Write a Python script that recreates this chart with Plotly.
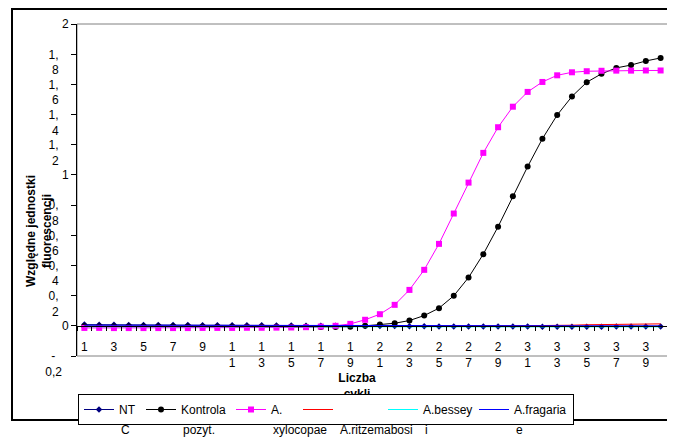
import plotly.graph_objects as go

# ---------------- data ----------------
CYCLES = list(range(1, 41))

NT = [0.008, 0.007, 0.007, 0.006, 0.006, 0.005, 0.005, 0.005, 0.004, 0.004,
      0.004, 0.003, 0.003, 0.002, 0.002, 0.001, 0.001, 0.000, 0.000, -0.001,
      -0.002, -0.002, -0.003, -0.003, -0.004, -0.004, -0.004, -0.005, -0.005, -0.005,
      -0.005, -0.006, -0.006, -0.006, -0.006, -0.006, -0.005, -0.005, -0.005, -0.004]

KONTROLA = [-0.003, -0.004, -0.004, -0.004, -0.005, -0.005, -0.005, -0.005, -0.006, -0.006,
            -0.006, -0.006, -0.006, -0.007, -0.007, -0.007, -0.008, -0.008, -0.006, 0.000,
            0.009, 0.017, 0.035, 0.068, 0.117, 0.199, 0.320, 0.475, 0.657, 0.859,
            1.055, 1.240, 1.397, 1.520, 1.614, 1.670, 1.709, 1.728, 1.755, 1.775]

XYLOCOPAE = [-0.014, -0.014, -0.015, -0.015, -0.015, -0.015, -0.015, -0.015, -0.014, -0.014,
             -0.014, -0.013, -0.013, -0.012, -0.011, -0.009, -0.005, 0.000, 0.013, 0.040,
             0.077, 0.139, 0.238, 0.371, 0.543, 0.744, 0.949, 1.146, 1.316, 1.452,
             1.550, 1.616, 1.660, 1.680, 1.687, 1.690, 1.691, 1.691, 1.692, 1.692]

RITZEMABOSI = [-0.004, -0.004, -0.004, -0.004, -0.004, -0.003, -0.003, -0.003, -0.003, -0.003,
               -0.003, -0.002, -0.002, -0.002, -0.002, -0.002, -0.001, -0.001, -0.001, -0.001,
               -0.001, 0.000, 0.000, 0.000, 0.000, 0.000, 0.001, 0.001, 0.001, 0.001,
               0.001, 0.002, 0.002, 0.004, 0.007, 0.009, 0.010, 0.011, 0.012, 0.013]

BESSEYI = [-0.006, -0.006, -0.006, -0.007, -0.007, -0.007, -0.007, -0.007, -0.008, -0.008,
           -0.008, -0.008, -0.008, -0.008, -0.008, -0.008, -0.008, -0.008, -0.008, -0.008,
           -0.008, -0.008, -0.008, -0.008, -0.008, -0.008, -0.008, -0.008, -0.008, -0.008,
           -0.008, -0.008, -0.008, -0.007, -0.007, -0.007, -0.007, -0.007, -0.007, -0.007]

FRAGARIAE = [0.004, 0.004, 0.004, 0.004, 0.004, 0.003, 0.003, 0.003, 0.003, 0.003,
             0.003, 0.002, 0.002, 0.002, 0.002, 0.002, 0.001, 0.001, 0.001, 0.001,
             0.001, 0.000, 0.000, 0.000, 0.000, 0.000, 0.000, 0.000, 0.000, 0.000,
             0.000, 0.000, 0.000, 0.000, 0.000, 0.000, 0.000, 0.000, 0.000, 0.000]

LEGEND_LINE1 = ["NT", "Kontrola", "A.", "", "A.bessey", "A.fragaria"]
LEGEND_LINE2 = ["C", "pozyt.", "xylocopae", "A.ritzemabosi", "i", "e"]

Y_TICK_VALUES = [-0.2, 0.0, 0.2, 0.4, 0.6, 0.8, 1.0, 1.2, 1.4, 1.6, 1.8, 2.0]
Y_TICK_LABELS = ["-0,2", "0", "0,2", "0,4", "0,6", "0,8", "1", "1,2", "1,4", "1,6", "1,8", "2"]

X_TICK_VALUES = list(range(1, 40, 2))
X_TICK_LABELS = [str(v) for v in X_TICK_VALUES]

X_TITLE = ["Liczba", "cykli"]
Y_TITLE = ["Względne jednostki", "fluorescencji"]

# ---------------- layout helpers ----------------
# The page body keeps the browser's default 8 px margin, so the figure is
# made 8 px smaller and all screen positions below are shifted by OFF.
OFF = 8
W, H = 675 - OFF, 437 - OFF
ML, MR, MT, MB = 77 - OFF, 7, 24 - OFF, 437 - 356
PW, PH = W - ML - MR, H - MT - MB
FONT = "Liberation Sans, Arial, sans-serif"
NB = "\u00a0"


def px_x(p):
    """screen x (px) -> paper x"""
    return (p - OFF - ML) / PW


def px_y(p):
    """screen y (px) -> paper y"""
    return (H - MB - (p - OFF)) / PH


CHAR_W = {",": 3.3, "-": 4.0}


def text_w(s):
    return sum(CHAR_W.get(c, 6.7) for c in s)


def wrap_y(label):
    """Excel-like wrapped value-axis label (first line sits on the tick)."""
    if label.startswith("-"):
        lines = ["-", label[1:]]
    elif "," in label:
        i = label.index(",") + 1
        lines = [label[:i], label[i:]]
    else:
        return label + "<br>" + NB
    out = []
    for ln in lines:
        right = 52.5 + text_w(ln) / 2
        pad = max(0, round((67 - right) / 3.33))
        out.append(ln + NB * pad)
    return "<br>".join(out)


def wrap_x(label):
    return "<br>".join(list(label))


y_ticktext = [wrap_y(t) for t in Y_TICK_LABELS]
x_tickvals = X_TICK_VALUES + [19.45]
x_ticktext = [wrap_x(t) for t in X_TICK_LABELS] + [
    NB + "<br>" + NB + "<br>" + "<br>".join("<b>%s</b>" % t for t in X_TITLE)]

# ---------------- traces ----------------
series = [
    (NT, "#000080", dict(symbol="diamond", size=5, color="#000080"), "lines+markers"),
    (KONTROLA, "#000000", dict(symbol="circle", size=6, color="#000000"), "lines+markers"),
    (XYLOCOPAE, "#FF00FF", dict(symbol="square", size=6, color="#FF00FF"), "lines+markers"),
    (RITZEMABOSI, "#FF0000", None, "lines"),
    (BESSEYI, "#00FFFF", None, "lines"),
    (FRAGARIAE, "#0000FF", None, "lines"),
]
LEGEND_WIDTHS = [17, 45, 22, 40, 46, 54]

fig = go.Figure()
for (vals, col, mk, mode), name, lw in zip(series, LEGEND_LINE1, LEGEND_WIDTHS):
    kw = dict(x=CYCLES, y=vals, mode=mode, name=name,
              line=dict(color=col, width=1), legendwidth=lw)
    if mk:
        kw["marker"] = mk
    fig.add_trace(go.Scatter(**kw))

ymin, ymax = -0.2, 2.0
xaxis_pos = (0 - ymin) / (ymax - ymin)

LEG_LEFT = 78
LEG_TOP = 394

fig.update_layout(
    width=W, height=H,
    margin=dict(l=ML, r=MR, t=MT, b=MB, pad=0, autoexpand=False),
    paper_bgcolor="white", plot_bgcolor="white",
    font=dict(family=FONT, size=12, color="black"),
    showlegend=True,
    legend=dict(orientation="h", x=px_x(LEG_LEFT), xanchor="left",
                y=px_y(LEG_TOP), yanchor="top",
                bgcolor="white", bordercolor="black", borderwidth=1,
                font=dict(family=FONT, size=12, color="black"),
                itemwidth=30, traceorder="normal", tracegroupgap=0),
    xaxis=dict(range=[0.5, 40.5], anchor="free", position=xaxis_pos, automargin=False,
               showline=True, linecolor="black", linewidth=1,
               showgrid=False, zeroline=False,
               tickmode="array", tickvals=x_tickvals, ticktext=x_ticktext,
               ticks="", tickangle=0, ticklabelstandoff=10,
               tickfont=dict(family=FONT, size=12, color="black"),
               minor=dict(tickmode="array", tickvals=[i + 0.5 for i in range(41)],
                          ticks="outside", ticklen=4, tickcolor="black", showgrid=False)),
    yaxis=dict(range=[ymin, ymax], anchor="x", automargin=False,
               showline=True, linecolor="black", linewidth=1,
               showgrid=False, zeroline=False,
               tickmode="array", tickvals=Y_TICK_VALUES, ticktext=y_ticktext,
               ticks="outside", ticklen=5, tickcolor="black",
               ticklabelshift=8,
               tickfont=dict(family=FONT, size=12, color="black")),
)

# plot-area border (grey) and chart-area border (black)
fig.add_shape(type="rect", xref="paper", yref="paper", x0=0, x1=1, y0=0, y1=1,
              line=dict(color="#808080", width=1), layer="below")
fig.add_shape(type="rect", xref="paper", yref="paper",
              x0=px_x(12), x1=px_x(672), y0=px_y(420), y1=px_y(OFF + 1),
              line=dict(color="black", width=2), layer="above")

# value-axis title (two rotated lines)
fig.add_annotation(xref="paper", yref="paper", x=px_x(39), y=px_y(231),
                   xanchor="center", yanchor="middle", textangle=-90,
                   text="<b>%s</b><br><b>%s</b>" % tuple(Y_TITLE),
                   showarrow=False, font=dict(family=FONT, size=12, color="black"))

# overflowing second lines of the legend labels (below each legend entry's text)
text_x = LEG_LEFT + 41
for txt, lw in zip(LEGEND_LINE2, LEGEND_WIDTHS):
    fig.add_annotation(xref="paper", yref="paper", x=px_x(text_x), y=px_y(430),
                       xanchor="left", yanchor="middle", text=txt, showarrow=False,
                       font=dict(family=FONT, size=12, color="black"))
    text_x += 40 + lw + 5

fig.write_html("out.html")
